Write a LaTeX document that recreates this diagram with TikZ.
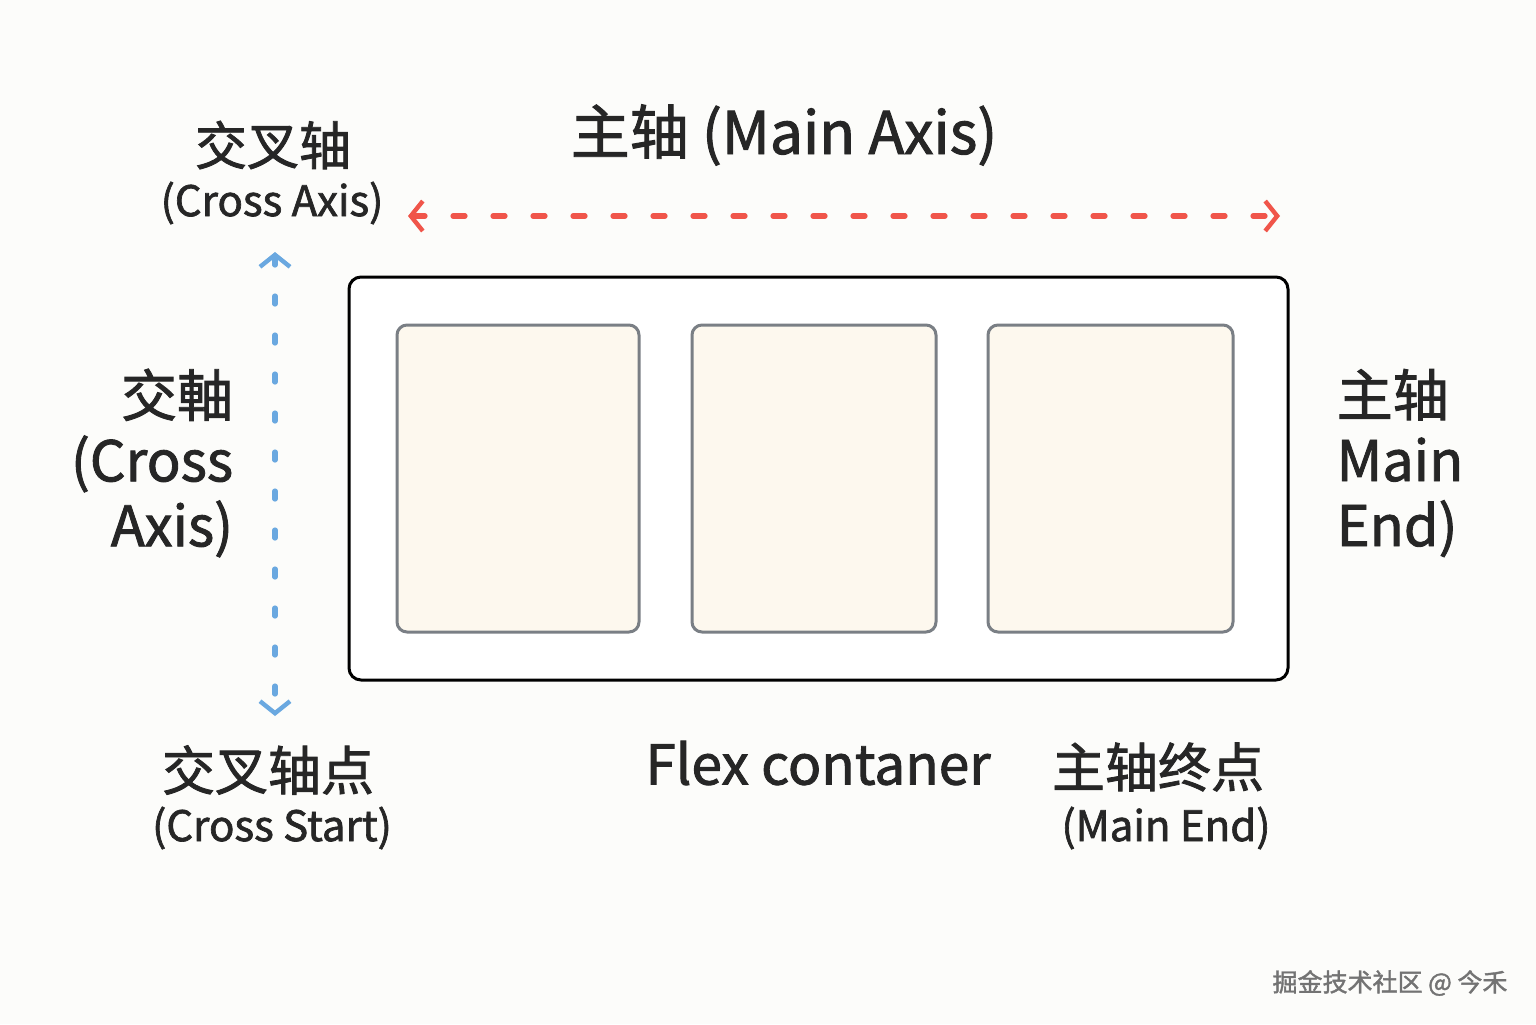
\documentclass[tikz,border=0pt]{standalone}
\usepackage{fontspec}
\setmainfont{Noto Sans CJK SC}[FakeBold=1.6,AutoFakeBold=1.6]
\usetikzlibrary{arrows.meta}
\definecolor{bg}{HTML}{FCFCFA}
\definecolor{itemfill}{HTML}{FDF8EE}
\definecolor{itemdraw}{HTML}{7A7F85}
\definecolor{redax}{HTML}{F0554A}
\definecolor{blueax}{HTML}{6AA8E0}
\begin{document}
\begin{tikzpicture}[x=0.5pt,y=-0.5pt,
  item/.style={draw=itemdraw,fill=itemfill,line width=1.5pt,rounded corners=5pt},
  lbl/.style={inner sep=0pt,text=black!85},
  big/.style={lbl,font=\fontsize{28}{32}\selectfont},
  small/.style={lbl,font=\fontsize{21}{24}\selectfont},
  axis/.style={line width=2.6pt,dash pattern=on 6pt off 14pt,line cap=round,
     arrows={Straight Barb[length=6pt,width=15pt,line width=2.2pt]-Straight Barb[length=6pt,width=15pt,line width=2.2pt]}}]
\useasboundingbox[fill=bg] (0,0) rectangle (1536,1024);
\draw[line width=1.5pt,rounded corners=6pt,fill=white] (349,277) rectangle (1288,680);
\node[item,minimum width=121pt,minimum height=153.5pt] (i1) at (518,478.5) {};
\node[item,minimum width=122pt,minimum height=153.5pt] (i2) at (814,478.5) {};
\node[item,minimum width=122.5pt,minimum height=153.5pt] (i3) at (1110.5,478.5) {};
\coordinate (ra) at (408,216); \coordinate (rb) at (1280,216);
\draw[axis,redax] (ra) -- (rb);
\coordinate (ba) at (275,252); \coordinate (bb) at (275,716);
\draw[axis,blueax,dash pattern=on 4pt off 15.5pt] (ba) -- (bb);
\node[big,font=\fontsize{29.5}{32}\selectfont] (t1) at (784,135) {主轴 (Main Axis)};
\node[big,font=\fontsize{26}{32}\selectfont] (t2) at (273,145) {交叉轴};
\node[small] (t3) at (272,203) {(Cross Axis)};
\node[big,align=right,font=\fontsize{28}{32.5}\selectfont] (t4) at (152,463) {交軸\\(Cross\\\,Axis)};
\node[big,align=left,font=\fontsize{28}{32.5}\selectfont] (t5) at (1400,463) {主轴\\Main\\End)};
\node[big,font=\fontsize{26.5}{32}\selectfont] (t6) at (268,770) {交叉轴点};
\node[small] (t7) at (272,828) {(Cross Start)};
\node[big,font=\fontsize{27.5}{32}\selectfont] (t8) at (818,763) {Flex contaner};
\node[big,font=\fontsize{26.5}{32}\selectfont] (t9) at (1158,767) {主轴终点};
\node[small] (t10) at (1166,828) {(Main End)};
\node[lbl,text=black!55,font=\fontsize{12.5}{14}\selectfont] (wm) at (1390,983) {掘金技术社区 @ 今禾};
\end{tikzpicture}
\end{document}
